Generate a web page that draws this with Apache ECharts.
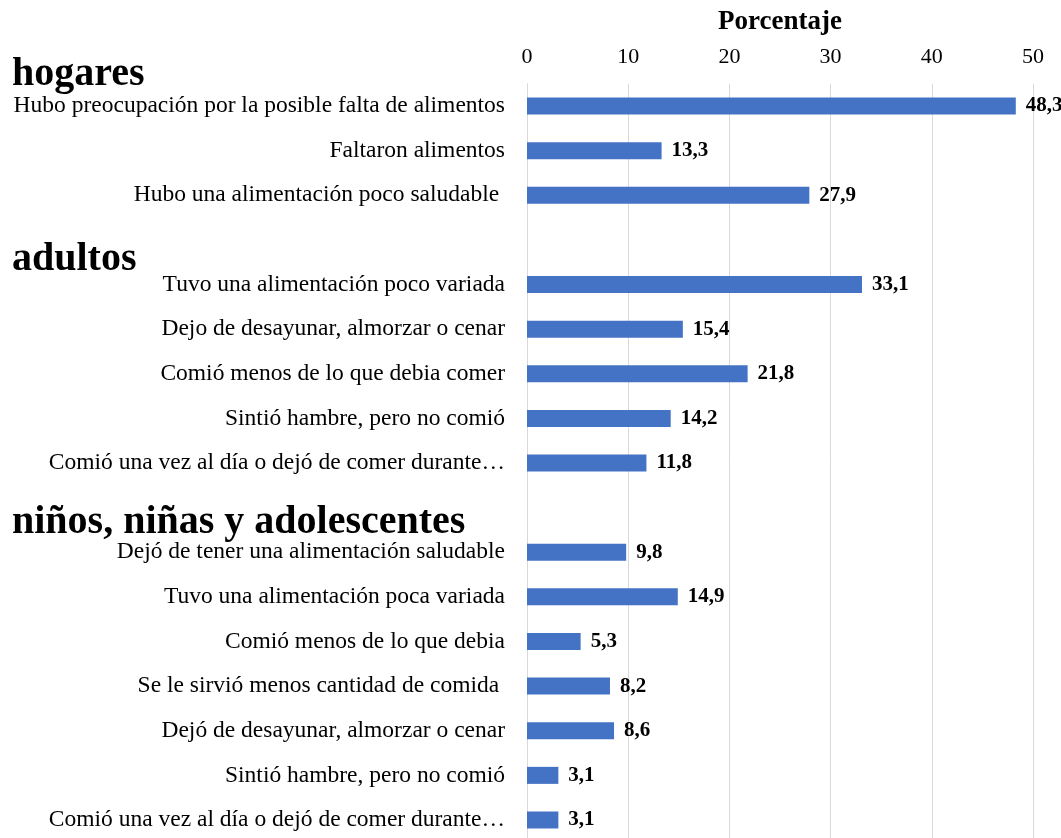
<!DOCTYPE html>
<html>
<head>
<meta charset="utf-8">
<script src="https://cdn.jsdelivr.net/npm/echarts@6/dist/echarts.min.js"></script>
<style>
  html, body { margin: 0; padding: 0; background: #fff; }
  #chart { width: 1061px; height: 838px; }
</style>
</head>
<body>
<div id="chart"></div>
<script>
// Row labels (empty strings are spacer rows where a section heading sits)
const categories = [
  'Hubo preocupación por la posible falta de alimentos',
  'Faltaron alimentos',
  'Hubo una alimentación poco saludable ',
  '',
  'Tuvo una alimentación poco variada',
  'Dejo de desayunar, almorzar o cenar',
  'Comió menos de lo que debia comer',
  'Sintió hambre, pero no comió',
  'Comió una vez al día o dejó de comer durante…',
  '',
  'Dejó de tener una alimentación saludable',
  'Tuvo una alimentación poca variada',
  'Comió menos de lo que debia',
  'Se le sirvió menos cantidad de comida ',
  'Dejó de desayunar, almorzar o cenar',
  'Sintió hambre, pero no comió',
  'Comió una vez al día o dejó de comer durante…'
];

// Percentages per row (null on spacer rows)
const values = [48.3, 13.3, 27.9, null, 33.1, 15.4, 21.8, 14.2, 11.8, null, 9.8, 14.9, 5.3, 8.2, 8.6, 3.1, 3.1];

// Section headings
const sections = ['hogares', 'adultos', 'niños, niñas y adolescentes'];

const axisTitle = 'Porcentaje';

const serif = '"Liberation Serif", "Times New Roman", serif';

const chart = echarts.init(document.getElementById('chart'), null, { renderer: 'canvas' });

// vertical centres of the section headings
const headingY = [72, 257, 520];

chart.setOption({
  animation: false,
  backgroundColor: '#ffffff',
  grid: {
    left: 527, right: 28, top: 83.7, bottom: -4.3,
    containLabel: false,
    outerBoundsMode: 'none'
  },
  xAxis: {
    type: 'value',
    position: 'top',
    min: 0,
    max: 50,
    interval: 10,
    name: axisTitle,
    nameLocation: 'middle',
    nameGap: 48,
    nameTextStyle: { fontFamily: serif, fontWeight: 'bold', fontSize: 27, color: '#000' },
    axisLine: { show: false },
    axisTick: { show: false },
    axisLabel: { margin: 15, fontFamily: serif, fontSize: 22, color: '#000' },
    splitLine: { show: true, lineStyle: { color: '#d9d9d9', width: 1 } }
  },
  yAxis: {
    type: 'category',
    inverse: true,
    data: categories,
    axisLine: { show: true, lineStyle: { color: '#d9d9d9', width: 1 } },
    axisTick: { show: false },
    axisLabel: { margin: 22, fontFamily: serif, fontSize: 23.5, color: '#000' }
  },
  series: [{
    type: 'bar',
    data: values,
    barWidth: 17,
    itemStyle: { color: '#4472C4' },
    label: {
      show: true,
      position: 'right',
      distance: 10,
      fontFamily: serif,
      fontWeight: 'bold',
      fontSize: 21,
      color: '#000',
      formatter: p => (p.value == null ? '' : p.value.toFixed(1).replace('.', ','))
    }
  }],
  graphic: sections.map((t, i) => ({
    type: 'text',
    left: 12,
    top: headingY[i] - 17,
    style: {
      text: t,
      fontFamily: serif,
      fontWeight: 'bold',
      fontSize: 40,
      fill: '#000'
    }
  }))
});
</script>
</body>
</html>
